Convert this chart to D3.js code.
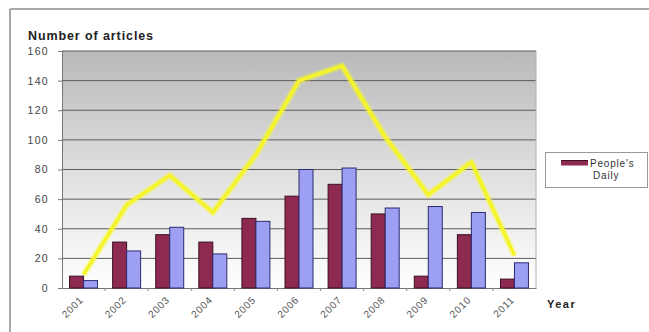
<!DOCTYPE html>
<html lang="en">
<head>
<meta charset="UTF-8" />
<title>Number of articles per year</title>
<script src="https://d3js.org/d3.v7.min.js"></script>
<style>
    * { margin: 0; padding: 0; box-sizing: border-box; }
    body { background: #fff; font-family: "Liberation Sans", Arial, sans-serif; }
    svg { display: block; }
</style>
</head>
<body>
<svg width="649" height="332"></svg>
<script>
    // chart data
    var years = ["2001", "2002", "2003", "2004", "2005", "2006", "2007", "2008", "2009", "2010", "2011"];
    var peoplesDaily = [8, 31, 36, 31, 47, 62, 70, 50, 8, 36, 6];
    var otherPaper = [5, 25, 41, 23, 45, 80, 81, 54, 55, 51, 17];
    var totalLine = [9, 56, 76, 51, 90, 140, 150, 102, 63, 85, 22];
    var yTicks = [0, 20, 40, 60, 80, 100, 120, 140, 160];
    var legendLabels = ["People's", "Daily"];

    var svg = d3.select("svg");

    // plot area (window.top is reserved, so prefixed names)
    var plotLeft = 62, plotRight = 536, plotTop = 51, plotBottom = 288;

    var x = d3.scaleBand().domain(years).range([plotLeft, plotRight]).padding(0);
    var x1 = d3.scaleBand().domain([0, 1]).range([0, x.bandwidth()]).paddingInner(0).paddingOuter(0.54);
    var y = d3.scaleLinear().domain([0, 160]).range([plotBottom, plotTop]);

    // outer frame
    svg.append("line").attr("x1", 10).attr("y1", 9).attr("x2", 649).attr("y2", 9)
        .attr("stroke", "#a8a8a8").attr("stroke-width", 2);
    svg.append("line").attr("x1", 10).attr("y1", 9).attr("x2", 10).attr("y2", 332)
        .attr("stroke", "#a8a8a8").attr("stroke-width", 2);

    // background gradient
    var defs = svg.append("defs");
    var grad = defs.append("linearGradient").attr("id", "bg")
        .attr("x1", 0).attr("y1", 0).attr("x2", 0).attr("y2", 1);
    grad.append("stop").attr("offset", "0%").attr("stop-color", "#b9b9b9");
    grad.append("stop").attr("offset", "55%").attr("stop-color", "#e2e2e2");
    grad.append("stop").attr("offset", "100%").attr("stop-color", "#ffffff");

    svg.append("rect")
        .attr("x", plotLeft).attr("y", plotTop)
        .attr("width", plotRight - plotLeft).attr("height", plotBottom - plotTop)
        .attr("fill", "url(#bg)");

    // gridlines
    svg.selectAll(".grid")
        .data(yTicks.slice(1))
        .enter()
        .append("line")
        .attr("x1", plotLeft).attr("x2", plotRight)
        .attr("y1", function(d) { return y(d); })
        .attr("y2", function(d) { return y(d); })
        .attr("stroke", "#5a5a5a")
        .attr("stroke-width", 1);

    // right edge of plot
    svg.append("line").attr("x1", plotRight).attr("x2", plotRight).attr("y1", plotTop).attr("y2", plotBottom)
        .attr("stroke", "#b0b0b0");

    // y axis
    var yAxis = d3.axisLeft(y).tickValues(yTicks).tickSize(4).tickPadding(9);
    var gy = svg.append("g")
        .attr("transform", "translate(" + plotLeft + ",0)")
        .call(yAxis);
    gy.select(".domain").attr("stroke", "#777");
    gy.selectAll(".tick line").attr("stroke", "#777");
    gy.selectAll("text")
        .attr("font-family", "Liberation Sans, Arial, sans-serif")
        .attr("font-size", "10.5px")
        .attr("letter-spacing", "1.3px")
        .attr("fill", "#444");

    // x axis
    var xAxis = d3.axisBottom(x).tickSize(0).tickPadding(0);
    var gx = svg.append("g")
        .attr("transform", "translate(0," + plotBottom + ")")
        .call(xAxis);
    gx.select(".domain").attr("stroke", "#777");
    gx.selectAll("text")
        .attr("font-family", "Liberation Sans, Arial, sans-serif")
        .attr("font-size", "10px")
        .attr("letter-spacing", "0.8px")
        .attr("fill", "#555")
        .attr("text-anchor", "end")
        .attr("y", 0)
        .attr("dy", "0.35em")
        .attr("transform", "translate(-2,10) rotate(-45)");

    // category separator ticks
    svg.selectAll(".xtick")
        .data(years.slice(1))
        .enter()
        .append("line")
        .attr("x1", function(d) { return x(d); })
        .attr("x2", function(d) { return x(d); })
        .attr("y1", plotBottom).attr("y2", plotBottom + 3)
        .attr("stroke", "#888");

    // bars
    var groups = svg.selectAll(".year")
        .data(years)
        .enter()
        .append("g")
        .attr("transform", function(d) { return "translate(" + x(d) + ",0)"; });

    groups.append("rect")
        .attr("x", x1(0))
        .attr("y", function(d, i) { return y(peoplesDaily[i]); })
        .attr("width", x1.bandwidth())
        .attr("height", function(d, i) { return plotBottom - y(peoplesDaily[i]); })
        .attr("fill", "#8e2a52")
        .attr("stroke", "#3a1020")
        .attr("stroke-width", 1);

    groups.append("rect")
        .attr("x", x1(1))
        .attr("y", function(d, i) { return y(otherPaper[i]); })
        .attr("width", x1.bandwidth())
        .attr("height", function(d, i) { return plotBottom - y(otherPaper[i]); })
        .attr("fill", "#9d9ff2")
        .attr("stroke", "#2a2a70")
        .attr("stroke-width", 1);

    // yellow total line
    var line = d3.line()
        .x(function(d, i) { return x(years[i]) + x.bandwidth() / 2; })
        .y(function(d) { return y(d); });

    svg.append("path")
        .datum(totalLine)
        .attr("d", line)
        .attr("fill", "none")
        .attr("stroke", "#ffff20")
        .attr("stroke-opacity", 0.35)
        .attr("stroke-width", 7)
        .attr("stroke-linejoin", "round");
    svg.append("path")
        .datum(totalLine)
        .attr("d", line)
        .attr("fill", "none")
        .attr("stroke", "#f4f42a")
        .attr("stroke-width", 3.5)
        .attr("stroke-linejoin", "miter");

    // titles
    svg.append("text")
        .attr("x", 28).attr("y", 40)
        .attr("font-family", "Liberation Sans, Arial, sans-serif")
        .attr("font-size", "12.5px")
        .attr("font-weight", "bold")
        .attr("letter-spacing", "0.9px")
        .attr("fill", "#222")
        .text("Number of articles");

    svg.append("text")
        .attr("x", 547).attr("y", 308)
        .attr("font-family", "Liberation Sans, Arial, sans-serif")
        .attr("font-size", "11px")
        .attr("font-weight", "bold")
        .attr("letter-spacing", "1.5px")
        .attr("fill", "#222")
        .text("Year");

    // legend
    svg.append("rect")
        .attr("x", 545.5).attr("y", 152.5)
        .attr("width", 102).attr("height", 35)
        .attr("fill", "#fff")
        .attr("stroke", "#999");
    svg.append("line")
        .attr("x1", 561).attr("x2", 588).attr("y1", 163).attr("y2", 163)
        .attr("stroke", "#8e2a52").attr("stroke-width", 5);
    svg.append("line")
        .attr("x1", 561).attr("x2", 588).attr("y1", 160.5).attr("y2", 160.5)
        .attr("stroke", "#3a1020").attr("stroke-width", 1);

    svg.selectAll(".leg")
        .data(legendLabels)
        .enter()
        .append("text")
        .attr("x", function(d, i) { return i === 0 ? 590 : 593; })
        .attr("y", function(d, i) { return 167 + i * 12; })
        .attr("font-family", "Liberation Sans, Arial, sans-serif")
        .attr("font-size", "10px")
        .attr("letter-spacing", "0.8px")
        .attr("fill", "#333")
        .text(function(d) { return d; });
</script>
</body>
</html>
